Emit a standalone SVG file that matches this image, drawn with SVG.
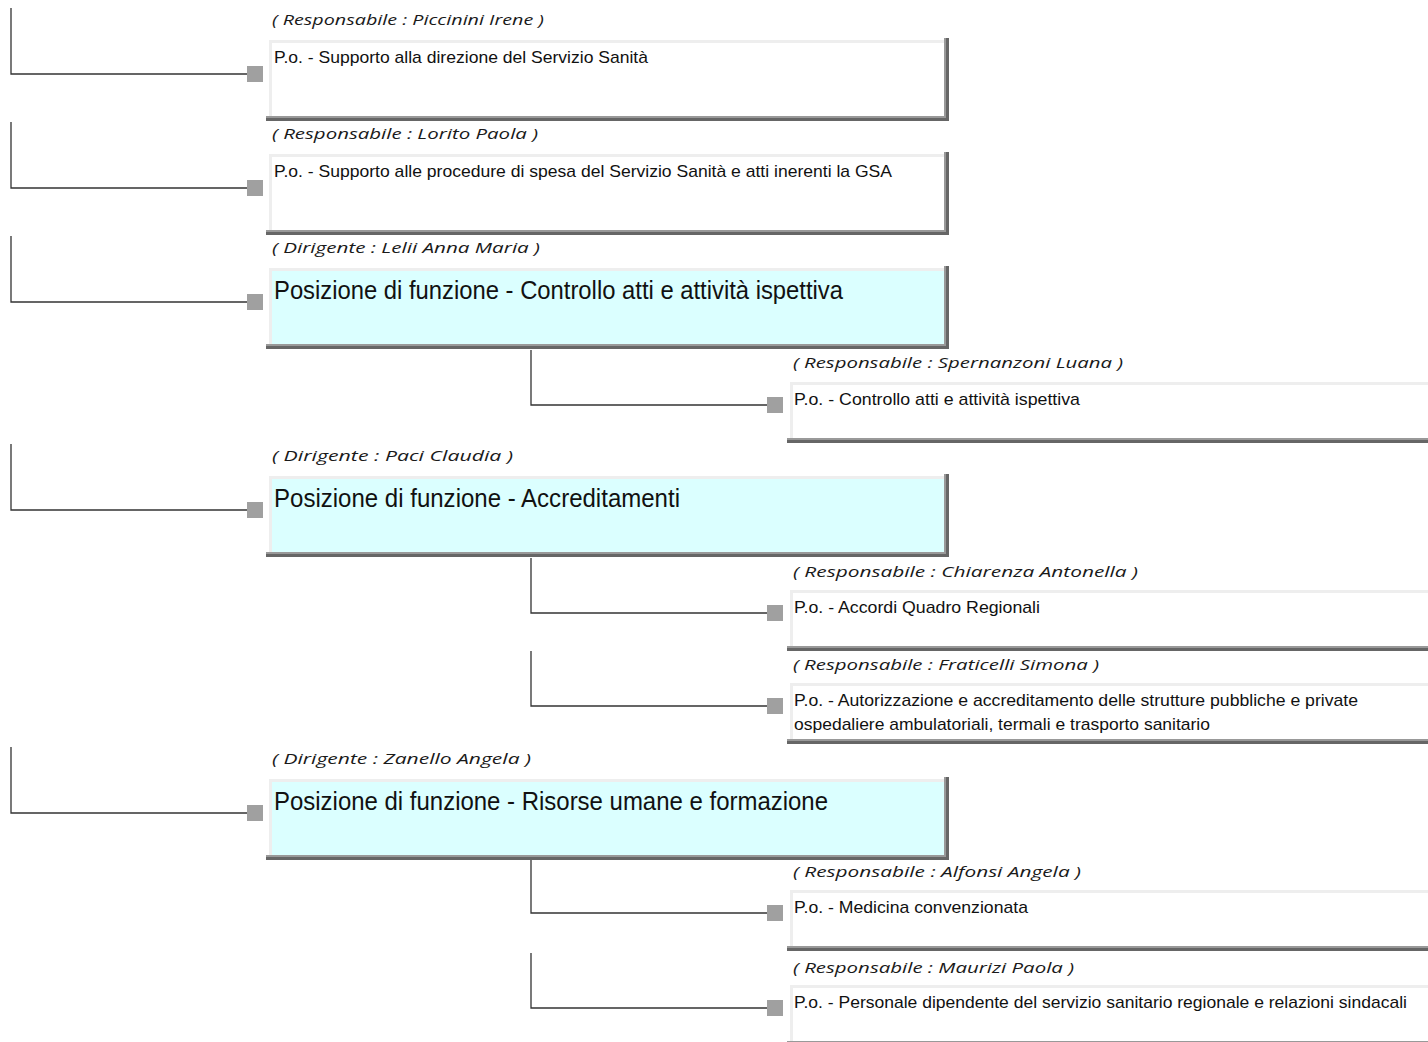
<svg xmlns="http://www.w3.org/2000/svg" width="1428" height="1042" viewBox="0 0 1428 1042">
<style>
.bg{fill:#ffffff}
.lt{fill:#eeeeee}
.sh1{fill:#999999}
.sh2{fill:#666666}
.w{fill:#ffffff}
.c{fill:#dbffff}
.sq{fill:#a0a0a0}
.ln{stroke:#333333;stroke-width:1.3;fill:none}
.lab{font-family:"Open Sans","DejaVu Sans",sans-serif;font-style:italic;font-size:15px;fill:#1a1a1a}
.t{font-family:"Liberation Sans",Arial,sans-serif;font-size:17px;fill:#111111}
.big{font-family:"Liberation Sans",Arial,sans-serif;font-size:26px;fill:#111111}
</style>
<rect class="bg" x="0" y="0" width="1428" height="1042"/>
<g id="connectors">
<path class="ln" d="M11 8V74H247"/>
<path class="ln" d="M11 122V188H247"/>
<path class="ln" d="M11 236V302H247"/>
<path class="ln" d="M11 444V510H247"/>
<path class="ln" d="M11 747V813H247"/>
<path class="ln" d="M531 350V405H767"/>
<path class="ln" d="M531 558V613H767"/>
<path class="ln" d="M531 651V706H767"/>
<path class="ln" d="M531 858V913H767"/>
<path class="ln" d="M531 953V1008H767"/>
<rect class="sq" x="247" y="66" width="16" height="16"/>
<rect class="sq" x="247" y="180" width="16" height="16"/>
<rect class="sq" x="247" y="294" width="16" height="16"/>
<rect class="sq" x="247" y="502" width="16" height="16"/>
<rect class="sq" x="247" y="805" width="16" height="16"/>
<rect class="sq" x="767" y="397" width="16" height="16"/>
<rect class="sq" x="767" y="605" width="16" height="16"/>
<rect class="sq" x="767" y="698" width="16" height="16"/>
<rect class="sq" x="767" y="905" width="16" height="16"/>
<rect class="sq" x="767" y="1000" width="16" height="16"/>
</g>
<g id="n1">
<text class="lab" x="272" y="25" textLength="272" lengthAdjust="spacingAndGlyphs">( Responsabile : Piccinini Irene )</text>
<rect class="sh1" x="266" y="116" width="683" height="2"/><rect class="sh2" x="266" y="118" width="683" height="3"/>
<rect class="sh1" x="944" y="38" width="2" height="78"/><rect class="sh2" x="946" y="38" width="3" height="80"/>
<rect class="lt" x="269" y="40" width="675" height="76"/><rect class="w" x="272" y="43" width="672" height="73"/>
<text class="t" x="274" y="63" textLength="374" lengthAdjust="spacingAndGlyphs">P.o. - Supporto alla direzione del Servizio Sanità</text>
</g>
<g id="n2">
<text class="lab" x="272" y="139" textLength="266" lengthAdjust="spacingAndGlyphs">( Responsabile : Lorito Paola )</text>
<rect class="sh1" x="266" y="230" width="683" height="2"/><rect class="sh2" x="266" y="232" width="683" height="3"/>
<rect class="sh1" x="944" y="152" width="2" height="78"/><rect class="sh2" x="946" y="152" width="3" height="80"/>
<rect class="lt" x="269" y="154" width="675" height="76"/><rect class="w" x="272" y="157" width="672" height="73"/>
<text class="t" x="274" y="177" textLength="618" lengthAdjust="spacingAndGlyphs">P.o. - Supporto alle procedure di spesa del Servizio Sanità e atti inerenti la GSA</text>
</g>
<g id="n3">
<text class="lab" x="272" y="253" textLength="268" lengthAdjust="spacingAndGlyphs">( Dirigente : Lelii Anna Maria )</text>
<rect class="sh1" x="266" y="344" width="683" height="2"/><rect class="sh2" x="266" y="346" width="683" height="3"/>
<rect class="sh1" x="944" y="266" width="2" height="78"/><rect class="sh2" x="946" y="266" width="3" height="80"/>
<rect class="lt" x="269" y="268" width="675" height="76"/><rect class="c" x="272" y="271" width="672" height="73"/>
<text class="big" x="274" y="299" textLength="569" lengthAdjust="spacingAndGlyphs">Posizione di funzione - Controllo atti e attività ispettiva</text>
</g>
<g id="n4">
<text class="lab" x="793" y="368" textLength="330" lengthAdjust="spacingAndGlyphs">( Responsabile : Spernanzoni Luana )</text>
<rect class="sh1" x="787" y="438" width="641" height="2"/><rect class="sh2" x="787" y="440" width="641" height="3"/>
<rect class="lt" x="790" y="382" width="638" height="56"/><rect class="w" x="793" y="385" width="635" height="53"/>
<text class="t" x="794" y="405" textLength="286" lengthAdjust="spacingAndGlyphs">P.o. - Controllo atti e attività ispettiva</text>
</g>
<g id="n5">
<text class="lab" x="272" y="461" textLength="241" lengthAdjust="spacingAndGlyphs">( Dirigente : Paci Claudia )</text>
<rect class="sh1" x="266" y="552" width="683" height="2"/><rect class="sh2" x="266" y="554" width="683" height="3"/>
<rect class="sh1" x="944" y="474" width="2" height="78"/><rect class="sh2" x="946" y="474" width="3" height="80"/>
<rect class="lt" x="269" y="476" width="675" height="76"/><rect class="c" x="272" y="479" width="672" height="73"/>
<text class="big" x="274" y="507" textLength="406" lengthAdjust="spacingAndGlyphs">Posizione di funzione - Accreditamenti</text>
</g>
<g id="n6">
<text class="lab" x="793" y="577" textLength="345" lengthAdjust="spacingAndGlyphs">( Responsabile : Chiarenza Antonella )</text>
<rect class="sh1" x="787" y="646" width="641" height="2"/><rect class="sh2" x="787" y="648" width="641" height="3"/>
<rect class="lt" x="790" y="590" width="638" height="56"/><rect class="w" x="793" y="593" width="635" height="53"/>
<text class="t" x="794" y="613" textLength="246" lengthAdjust="spacingAndGlyphs">P.o. - Accordi Quadro Regionali</text>
</g>
<g id="n7">
<text class="lab" x="793" y="670" textLength="306" lengthAdjust="spacingAndGlyphs">( Responsabile : Fraticelli Simona )</text>
<rect class="sh1" x="787" y="739" width="641" height="2"/><rect class="sh2" x="787" y="741" width="641" height="3"/>
<rect class="lt" x="790" y="683" width="638" height="56"/><rect class="w" x="793" y="686" width="635" height="53"/>
<text class="t" x="794" y="706" textLength="564" lengthAdjust="spacingAndGlyphs">P.o. - Autorizzazione e accreditamento delle strutture pubbliche e private</text>
<text class="t" x="794" y="730" textLength="416" lengthAdjust="spacingAndGlyphs">ospedaliere ambulatoriali, termali e trasporto sanitario</text>
</g>
<g id="n8">
<text class="lab" x="272" y="764" textLength="259" lengthAdjust="spacingAndGlyphs">( Dirigente : Zanello Angela )</text>
<rect class="sh1" x="266" y="855" width="683" height="2"/><rect class="sh2" x="266" y="857" width="683" height="3"/>
<rect class="sh1" x="944" y="777" width="2" height="78"/><rect class="sh2" x="946" y="777" width="3" height="80"/>
<rect class="lt" x="269" y="779" width="675" height="76"/><rect class="c" x="272" y="782" width="672" height="73"/>
<text class="big" x="274" y="810" textLength="554" lengthAdjust="spacingAndGlyphs">Posizione di funzione - Risorse umane e formazione</text>
</g>
<g id="n9">
<text class="lab" x="793" y="877" textLength="288" lengthAdjust="spacingAndGlyphs">( Responsabile : Alfonsi Angela )</text>
<rect class="sh1" x="787" y="946" width="641" height="2"/><rect class="sh2" x="787" y="948" width="641" height="3"/>
<rect class="lt" x="790" y="890" width="638" height="56"/><rect class="w" x="793" y="893" width="635" height="53"/>
<text class="t" x="794" y="913" textLength="234" lengthAdjust="spacingAndGlyphs">P.o. - Medicina convenzionata</text>
</g>
<g id="n10">
<text class="lab" x="793" y="973" textLength="281" lengthAdjust="spacingAndGlyphs">( Responsabile : Maurizi Paola )</text>
<rect class="sh1" x="787" y="1041" width="641" height="1"/>
<rect class="lt" x="790" y="985" width="638" height="56"/><rect class="w" x="793" y="988" width="635" height="53"/>
<text class="t" x="794" y="1008" textLength="613" lengthAdjust="spacingAndGlyphs">P.o. - Personale dipendente del servizio sanitario regionale e relazioni sindacali</text>
</g>
</svg>
